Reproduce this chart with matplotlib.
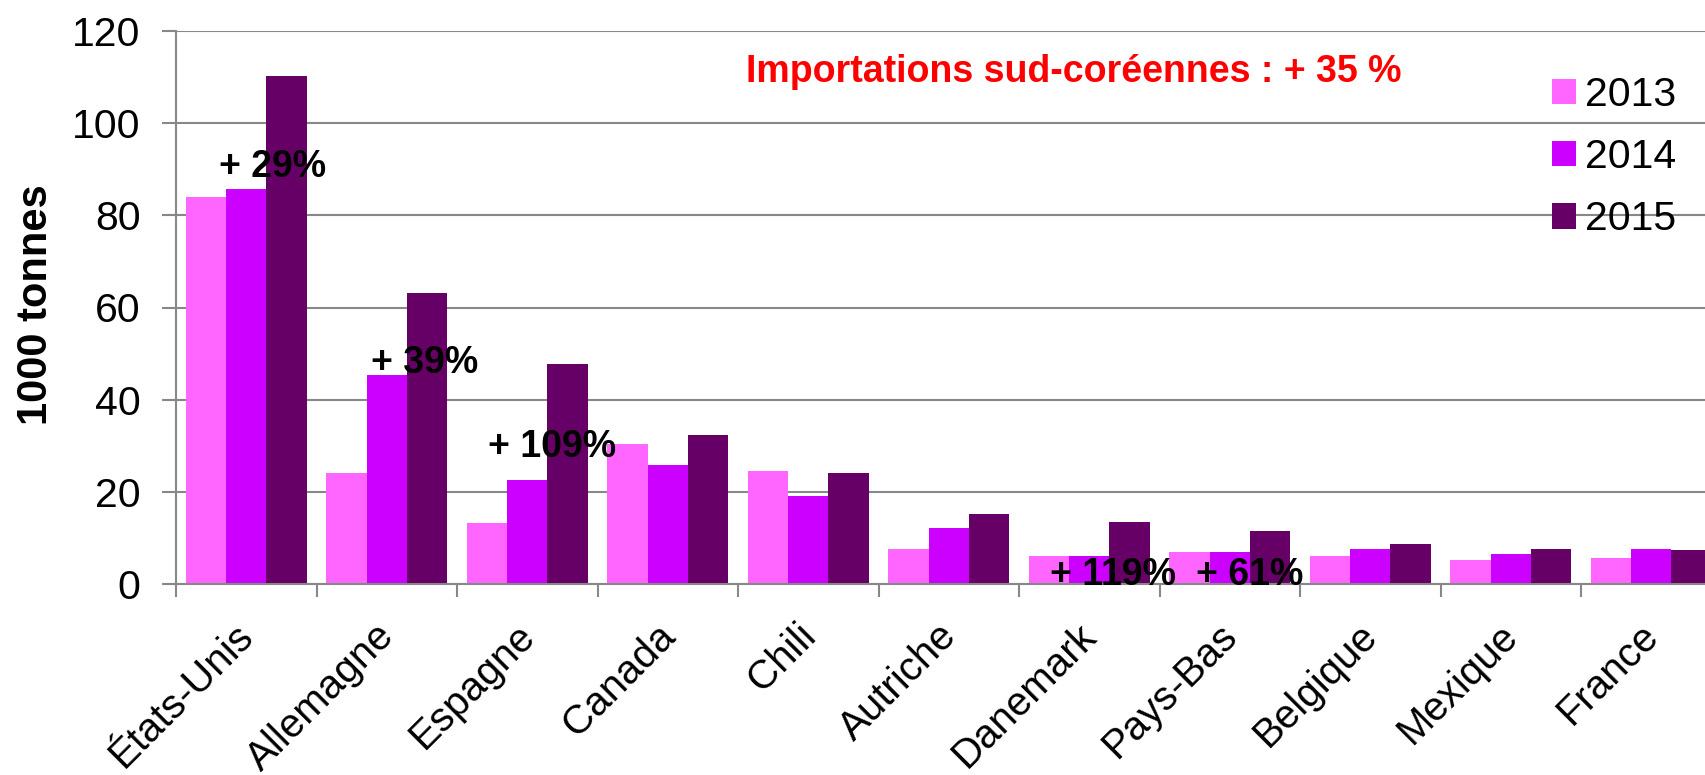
import numpy as np
import matplotlib
matplotlib.use("Agg")
import matplotlib.pyplot as plt
import matplotlib.transforms as mtransforms
from matplotlib.patches import Patch

plt.rcParams['font.family'] = ['Liberation Sans', 'DejaVu Sans']

# ---------------- data ----------------
countries = ["États-Unis", "Allemagne", "Espagne", "Canada", "Chili", "Autriche",
             "Danemark", "Pays-Bas", "Belgique", "Mexique", "France"]
years = ["2013", "2014", "2015"]
v2013 = [84.0, 24.0, 13.2, 30.4, 24.5, 7.5, 6.0, 7.0, 6.0, 5.1, 5.6]
v2014 = [85.7, 45.3, 22.6, 25.8, 19.1, 12.1, 6.0, 7.0, 7.5, 6.5, 7.5]
v2015 = [110.3, 63.1, 47.7, 32.3, 24.1, 15.1, 13.4, 11.4, 8.6, 7.5, 7.3]
growth_labels = ["+ 29%", "+ 39%", "+ 109%", "+ 119%", "+ 61%"]
growth_country = [0, 1, 2, 6, 7]
title_text = "Importations sud-coréennes : + 35 %"
ylabel_text = "1000 tonnes"
yticks = [0, 20, 40, 60, 80, 100, 120]

colors = ["#FF66FF", "#CC00FF", "#660066"]
grid_col = "#888888"

W, H = 1706, 775
fig = plt.figure(figsize=(W / 100, H / 100), dpi=100)
ax = fig.add_axes([176 / W, 191 / H, 1545.5 / W, 553 / H])

x = np.arange(len(countries))
bw = 0.286
series = [v2013, v2014, v2015]
for i, (vals, c) in enumerate(zip(series, colors)):
    ax.bar(x + (i - 1) * bw, vals, width=bw, color=c, linewidth=0, zorder=2)

ax.set_xlim(-0.5, len(countries) - 0.5)
ax.set_ylim(0, 120)
ax.set_yticks(yticks)
ax.yaxis.grid(True, color=grid_col, linewidth=1.5, zorder=0)
ax.set_axisbelow(True)

for s in ["top", "right"]:
    ax.spines[s].set_visible(False)
for s in ["left", "bottom"]:
    ax.spines[s].set_color(grid_col)
    ax.spines[s].set_linewidth(1.5)

ax.tick_params(axis="y", length=10, width=1.5, color=grid_col, labelsize=29.5,
               pad=15.5, labelcolor="black")
ax.set_xticks(x)
ax.set_xticklabels(countries)
ax.set_xticks(np.arange(-0.5, len(countries), 1), minor=True)
ax.tick_params(axis="x", which="major", length=0, pad=23.5, labelsize=29)
ax.tick_params(axis="x", which="minor", length=9.5, width=1.5, color=grid_col)
offset = mtransforms.ScaledTranslation(-12 / 100, 0, fig.dpi_scale_trans)
for lab in ax.get_xticklabels():
    lab.set_rotation(45)
    lab.set_ha("right")
    lab.set_va("top")
    lab.set_rotation_mode("anchor")
    lab.set_transform(lab.get_transform() + offset)

# growth annotations (placed over the matching country group)
ann_dx = [0.19, 0.27, 0.18, 0.17, 0.14]
ann_y = [88.3, 45.7, 27.5, -0.2, -0.2]
for lab, ci, dx, yy in zip(growth_labels, growth_country, ann_dx, ann_y):
    ax.text(ci + dx, yy, lab, ha="center", va="baseline", fontsize=27,
            fontweight="bold", color="black", zorder=5)

fig.text(1074 / W, 1 - 82 / H, title_text, ha="center", va="baseline",
         fontsize=27, fontweight="bold", color="#FF0000")

fig.text(36 / W, 1 - 305 / H, ylabel_text, rotation=90, ha="center", va="center",
         fontsize=30, fontweight="bold")

handles = [Patch(facecolor=c, edgecolor="none") for c in colors]
leg = fig.legend(handles, years, loc="upper left",
                 bbox_to_anchor=(1552 / W, 1 - 76 / H), frameon=False,
                 fontsize=29.5, handlelength=0.58, handleheight=0.58,
                 handletextpad=0.22, labelspacing=0.59, borderpad=0,
                 borderaxespad=0)

fig.savefig("out.png", dpi=100)
